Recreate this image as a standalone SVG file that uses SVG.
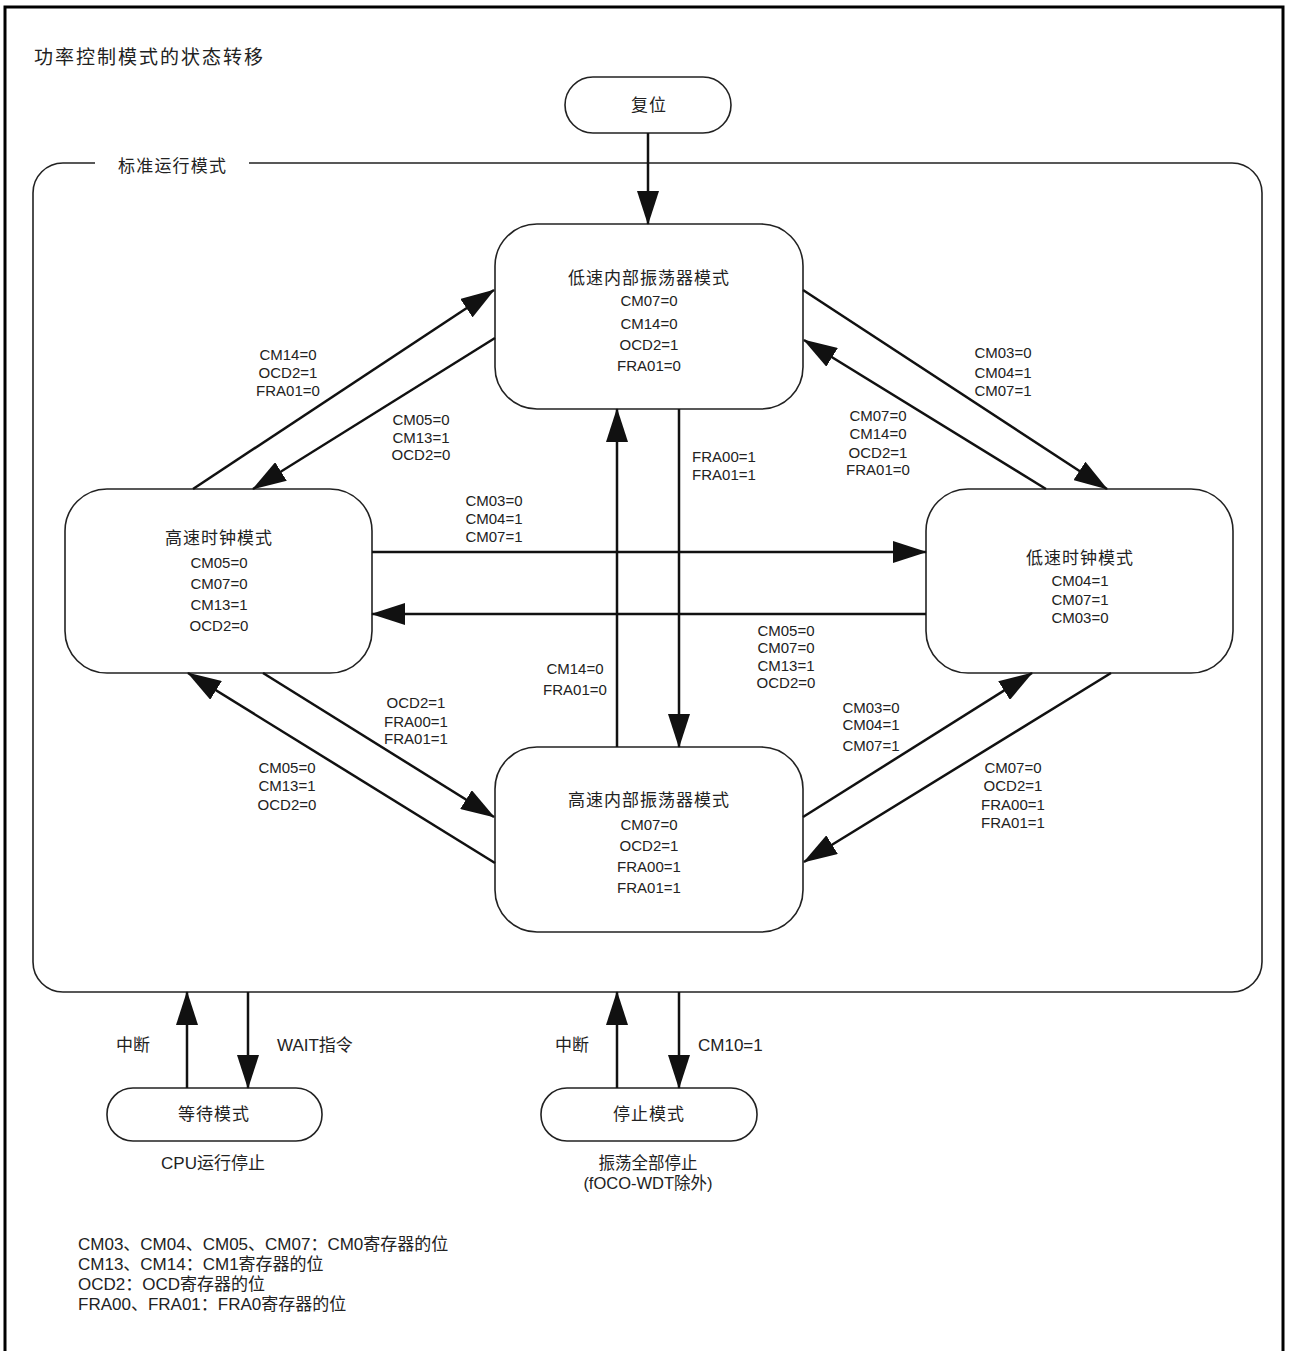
<svg xmlns="http://www.w3.org/2000/svg" width="1289" height="1351" viewBox="0 0 1289 1351">
<defs>
<marker id="ah" markerUnits="userSpaceOnUse" markerWidth="34" markerHeight="22" refX="33" refY="11" orient="auto">
<path d="M0,0 L34,11 L0,22 Z" fill="#111"/>
</marker>
<style>
.node{fill:#fff;stroke:#222;stroke-width:1.6}
.conn line{stroke:#111;stroke-width:2.5;marker-end:url(#ah)}
text{font-family:"Liberation Sans",Arial,"Noto Sans CJK SC",sans-serif;fill:#222}
.t{font-size:17px;text-anchor:middle;letter-spacing:1px}
.p{font-size:15px;text-anchor:middle}
.l{font-size:15px;text-anchor:middle}
.b{font-size:17px}
.s{font-size:16.5px}
.g{font-size:17px}
</style>
</defs>
<rect width="1289" height="1351" fill="#fff"/>
<path d="M5,1351 V7 H1283 V1351" fill="none" stroke="#000" stroke-width="3"/>
<text x="34" y="64" style="font-size:19px;letter-spacing:2px">功率控制模式的状态转移</text>

<g id="standard-mode">
<path d="M95,163 H63 A30,30 0 0 0 33,193 V962 A30,30 0 0 0 63,992 H1232 A30,30 0 0 0 1262,962 V193 A30,30 0 0 0 1232,163 H249" fill="none" stroke="#222" stroke-width="1.6"/>
<text x="118" y="172" style="font-size:17px;letter-spacing:1.2px">标准运行模式</text>
</g>

<g id="reset">
<rect class="node" x="565" y="77" width="166" height="56" rx="28"/>
<text class="t" x="649" y="111">复位</text>
</g>

<g id="low-speed-internal">
<rect class="node" x="495" y="224" width="308" height="185" rx="42"/>
<text class="t" x="649" y="284">低速内部振荡器模式</text>
<text class="p" x="649" y="305.5">CM07=0</text>
<text class="p" x="649" y="328.5">CM14=0</text>
<text class="p" x="649" y="349.5">OCD2=1</text>
<text class="p" x="649" y="370.5">FRA01=0</text>
</g>

<g id="high-speed-clock">
<rect class="node" x="65" y="489" width="307" height="184" rx="42"/>
<text class="t" x="219" y="544">高速时钟模式</text>
<text class="p" x="219" y="567.5">CM05=0</text>
<text class="p" x="219" y="588.5">CM07=0</text>
<text class="p" x="219" y="609.5">CM13=1</text>
<text class="p" x="219" y="630.5">OCD2=0</text>
</g>

<g id="low-speed-clock">
<rect class="node" x="926" y="489" width="307" height="184" rx="42"/>
<text class="t" x="1080" y="564">低速时钟模式</text>
<text class="p" x="1080" y="585.5">CM04=1</text>
<text class="p" x="1080" y="604.5">CM07=1</text>
<text class="p" x="1080" y="622.5">CM03=0</text>
</g>

<g id="high-speed-internal">
<rect class="node" x="495" y="747" width="308" height="185" rx="42"/>
<text class="t" x="649" y="806">高速内部振荡器模式</text>
<text class="p" x="649" y="829.5">CM07=0</text>
<text class="p" x="649" y="850.5">OCD2=1</text>
<text class="p" x="649" y="871.5">FRA00=1</text>
<text class="p" x="649" y="892.5">FRA01=1</text>
</g>

<g id="wait-mode">
<rect class="node" x="107" y="1088" width="215" height="53" rx="26"/>
<text class="t" x="214" y="1120">等待模式</text>
<text class="b" x="213" y="1169" text-anchor="middle">CPU运行停止</text>
</g>

<g id="stop-mode">
<rect class="node" x="541" y="1088" width="216" height="53" rx="26"/>
<text class="t" x="649" y="1120">停止模式</text>
<text class="s" x="648" y="1169" text-anchor="middle">振荡全部停止</text>
<text class="s" x="648" y="1189" text-anchor="middle">(fOCO-WDT除外)</text>
</g>

<g id="connectors" class="conn">
<line x1="648" y1="133" x2="648" y2="224"/>
<line x1="193" y1="489" x2="494" y2="290"/>
<line x1="495" y1="338" x2="253" y2="489"/>
<line x1="803" y1="290" x2="1107" y2="489"/>
<line x1="1046" y1="489" x2="804" y2="340"/>
<line x1="372" y1="552" x2="926" y2="552"/>
<line x1="926" y1="614" x2="372" y2="614"/>
<line x1="617" y1="747" x2="617" y2="409"/>
<line x1="679" y1="409" x2="679" y2="747"/>
<line x1="263" y1="673" x2="494" y2="817"/>
<line x1="495" y1="863" x2="188" y2="673"/>
<line x1="803" y1="817" x2="1032" y2="673"/>
<line x1="1111" y1="673" x2="804" y2="862"/>
<line x1="187" y1="1088" x2="187" y2="992"/>
<line x1="248" y1="992" x2="248" y2="1088"/>
<line x1="617" y1="1088" x2="617" y2="992"/>
<line x1="679" y1="992" x2="679" y2="1088"/>
</g>

<g id="connector-labels">
<text class="l" x="288" y="359.5">CM14=0</text>
<text class="l" x="288" y="377.5">OCD2=1</text>
<text class="l" x="288" y="395.5">FRA01=0</text>

<text class="l" x="421" y="424.5">CM05=0</text>
<text class="l" x="421" y="442.5">CM13=1</text>
<text class="l" x="421" y="459.5">OCD2=0</text>

<text class="l" x="1003" y="357.5">CM03=0</text>
<text class="l" x="1003" y="377.5">CM04=1</text>
<text class="l" x="1003" y="395.5">CM07=1</text>

<text class="l" x="878" y="420.5">CM07=0</text>
<text class="l" x="878" y="438.5">CM14=0</text>
<text class="l" x="878" y="457.5">OCD2=1</text>
<text class="l" x="878" y="474.5">FRA01=0</text>

<text class="l" x="494" y="505.5">CM03=0</text>
<text class="l" x="494" y="523.5">CM04=1</text>
<text class="l" x="494" y="541.5">CM07=1</text>

<text class="l" x="786" y="635.5">CM05=0</text>
<text class="l" x="786" y="652.5">CM07=0</text>
<text class="l" x="786" y="670.5">CM13=1</text>
<text class="l" x="786" y="687.5">OCD2=0</text>

<text class="l" x="724" y="461.5">FRA00=1</text>
<text class="l" x="724" y="479.5">FRA01=1</text>

<text class="l" x="575" y="673.5">CM14=0</text>
<text class="l" x="575" y="694.5">FRA01=0</text>

<text class="l" x="416" y="707.5">OCD2=1</text>
<text class="l" x="416" y="726.5">FRA00=1</text>
<text class="l" x="416" y="743.5">FRA01=1</text>

<text class="l" x="287" y="772.5">CM05=0</text>
<text class="l" x="287" y="790.5">CM13=1</text>
<text class="l" x="287" y="809.5">OCD2=0</text>

<text class="l" x="871" y="712.5">CM03=0</text>
<text class="l" x="871" y="729.5">CM04=1</text>
<text class="l" x="871" y="750.5">CM07=1</text>

<text class="l" x="1013" y="772.5">CM07=0</text>
<text class="l" x="1013" y="790.5">OCD2=1</text>
<text class="l" x="1013" y="809.5">FRA00=1</text>
<text class="l" x="1013" y="827.5">FRA01=1</text>

<text class="b" x="133" y="1051" text-anchor="middle">中断</text>
<text class="b" x="277" y="1051">WAIT指令</text>
<text class="b" x="572" y="1051" text-anchor="middle">中断</text>
<text class="b" x="698" y="1051">CM10=1</text>
</g>

<g id="legend">
<text class="g" x="78" y="1250">CM03、CM04、CM05、CM07：CM0寄存器的位</text>
<text class="g" x="78" y="1270">CM13、CM14：CM1寄存器的位</text>
<text class="g" x="78" y="1290">OCD2：OCD寄存器的位</text>
<text class="g" x="78" y="1310">FRA00、FRA01：FRA0寄存器的位</text>
</g>
</svg>
